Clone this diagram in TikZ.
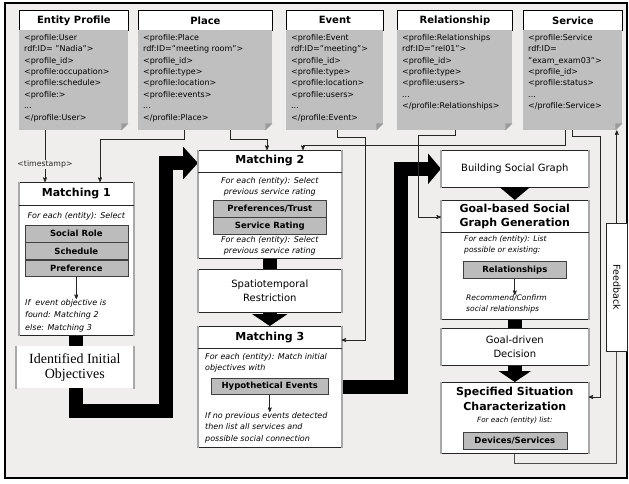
\documentclass[tikz,border=0pt]{standalone}
\usepackage{fontspec}
\setmainfont{DejaVu Sans}
\newfontfamily\objfont{Liberation Serif}
\usetikzlibrary{arrows,arrows.meta,calc,backgrounds}

\definecolor{panel}{RGB}{239,238,236}
\definecolor{docgray}{RGB}{191,191,191}
\definecolor{foldgray}{RGB}{155,155,155}
\definecolor{rowgray}{RGB}{188,188,188}
\definecolor{sidegray}{RGB}{168,168,168}

\begin{document}
\begin{tikzpicture}[x=1pt,y=-1pt,>=stealth',
  profhead/.style={draw=black,fill=white,line width=0.8pt,inner sep=0pt,minimum height=20pt,anchor=north west,font=\fontsize{10}{12}\selectfont\bfseries},
  profbody/.style={fill=docgray,inner xsep=5pt,inner ysep=4pt,anchor=north west,font=\fontsize{8}{11.4}\selectfont},
  stage/.style={draw=black!85,fill=white,line width=0.6pt,inner sep=0pt,anchor=north west,align=center},
  title/.style={font=\fontsize{11}{14}\selectfont\bfseries,align=center,inner sep=0pt},
  note/.style={font=\fontsize{8}{11}\selectfont\itshape,inner sep=0pt},
  plain/.style={font=\fontsize{10}{14}\selectfont},
  rowbox/.style={draw=black!75,fill=rowgray,line width=0.6pt,inner sep=0pt,anchor=north,minimum height=16.7pt,font=\fontsize{8.5}{10}\selectfont\bfseries},
  sidebar/.style={sidegray,line width=2.2pt},
  link/.style={->,black!85,line width=0.7pt},
  flow/.style={line width=14pt,line join=miter,black}]

\useasboundingbox (0,0) rectangle (629,483);

% profiles
\node[profhead,minimum width=109pt] (uhead) at (19,10)  {Entity Profile};
\node[profhead,minimum width=134pt] (phead) at (138,10) {Place};
\node[profhead,minimum width=97pt]  (ehead) at (286,10) {Event};
\node[profhead,minimum width=115pt] (rhead) at (397,10) {Relationship};
\node[profhead,minimum width=99pt]  (shead) at (523,10) {Service};

\node[profbody] (ubody) at (19,30)  {\parbox[t][92pt][t]{99pt}{<profile:User\\rdf:ID= "Nadia">\\<profile\_id>\\<profile:occupation>\\<profile:schedule>\\<profile:>\\...\\</profile:User>}};
\node[profbody] (pbody) at (138,30) {\parbox[t][92pt][t]{124pt}{<profile:Place\\rdf:ID="meeting room">\\<profile\_id>\\<profile:type>\\<profile:location>\\<profile:events>\\...\\</profile:Place>}};
\node[profbody] (ebody) at (286,30) {\parbox[t][92pt][t]{87pt}{<profile:Event\\rdf:ID="meeting">\\<profile\_id>\\<profile:type>\\<profile:location>\\<profile:users>\\...\\</profile:Event>}};
\node[profbody] (rbody) at (397,30) {\parbox[t][92pt][t]{105pt}{<profile:Relationships\\rdf:ID="rel01">\\<profile\_id>\\<profile:type>\\<profile:users>\\...\\</profile:Relationships>}};
\node[profbody] (sbody) at (523,30) {\parbox[t][92pt][t]{89pt}{<profile:Service\\rdf:ID=\\"exam\_exam03">\\<profile\_id>\\<profile:status>\\...\\</profile:Service>}};

\foreach \b in {ubody,pbody,ebody,rbody,sbody}{
  \fill[panel] (\b.south east) -- ++(-7,0) -- ++(7,-7) -- cycle;
  \fill[foldgray] (\b.south east) ++(-7,0) -- ++(7,-7) -- ++(-7,0) -- cycle;
}

% stages
\node[stage,minimum width=114pt,minimum height=153pt] (mone)   at (19,182)  {};
\node[stage,minimum width=117pt,minimum height=42pt,draw=none,font=\objfont\fontsize{14}{15}\selectfont] (ident) at (16,346) {Identified Initial\\Objectives};
\node[stage,minimum width=143pt,minimum height=108pt] (mtwo)   at (198,150) {};
\node[stage,minimum width=143pt,minimum height=43pt,plain]  (spat)   at (198,269) {Spatiotemporal\\Restriction};
\node[stage,minimum width=143pt,minimum height=121pt] (mthree) at (198,326) {};
\node[stage,minimum width=147pt,minimum height=37pt,plain]  (build)  at (441,150) {Building Social Graph};
\node[stage,minimum width=147pt,minimum height=119pt] (goal)   at (441,200) {};
\node[stage,minimum width=147pt,minimum height=37pt,plain]  (decide) at (441,328) {Goal-driven\\Decision};
\node[stage,minimum width=147pt,minimum height=71pt]  (situ)   at (441,382) {};
\node[stage,minimum width=21pt,minimum height=128pt]  (fback)  at (606,223) {};
\node[rotate=-90,font=\fontsize{9.5}{11}\selectfont] (fbtext) at (fback.center) {Feedback};

\foreach \n in {mone,ident,mtwo,spat,mthree,build,goal,decide,situ}
  \draw[sidebar] (\n.north west) -- (\n.south west) (\n.north east) -- (\n.south east);

% matching 1
\node[title] (monetitle) at ($(mone.north)+(0,12)$) {Matching 1};
\draw[black!85] ($(mone.north west)+(0,23)$) -- ($(mone.north east)+(0,23)$);
\node[note] (monesel) at ($(mone.north)+(0,34)$) {For each (entity): Select};
\node[rowbox,minimum width=103pt] (r11) at ($(mone.north)+(0,43)$) {Social Role};
\node[rowbox,minimum width=103pt] (r12) at (r11.south) {Schedule};
\node[rowbox,minimum width=103pt] (r13) at (r12.south) {Preference};
\node[note,align=left,anchor=north west,font=\fontsize{8}{12.5}\selectfont\itshape] (monenote) at ($(mone.north west)+(6,117)$) {If\ \ event objective is\\found: Matching 2\\else: Matching 3};
\draw[link] (r13.south) -- (r13.south |- monenote.north);

% matching 2
\node[title] (mtwotitle) at ($(mtwo.north)+(0,11)$) {Matching 2};
\draw[black!85] ($(mtwo.north west)+(0,22)$) -- ($(mtwo.north east)+(0,22)$);
\node[note,align=center] (mtwosel) at ($(mtwo.north)+(0,37)$) {For each (entity): Select\\previous service rating};
\node[rowbox,minimum width=113pt] (r21) at ($(mtwo.north)+(0,50)$) {Preferences/Trust};
\node[rowbox,minimum width=113pt] (r22) at (r21.south) {Service Rating};
\node[note,align=center,anchor=north] (mtwoagain) at ($(r22.south)+(0,2)$) {For each (entity): Select\\previous service rating};

% matching 3
\node[title] (mthreetitle) at ($(mthree.north)+(0,11)$) {Matching 3};
\draw[black!85] ($(mthree.north west)+(0,22)$) -- ($(mthree.north east)+(0,22)$);
\node[note,align=left,anchor=north west] (mthreesel) at ($(mthree.north west)+(7,27)$) {For each (entity): Match initial\\objectives with};
\node[rowbox,minimum width=117pt,minimum height=16pt] (r31) at ($(mthree.north)+(0,52)$) {Hypothetical Events};
\node[note,align=left,anchor=north west,font=\fontsize{8}{11.5}\selectfont\itshape] (mthreenote) at ($(mthree.north west)+(7,86)$) {If no previous events detected\\then list all services and\\possible social connection};
\draw[link] (r31.south) -- (r31.south |- mthreenote.north);

% goal-based
\node[title] (goaltitle) at ($(goal.north)+(0,16)$) {Goal-based Social\\Graph Generation};
\draw[black!85] ($(goal.north west)+(0,32)$) -- ($(goal.north east)+(0,32)$);
\node[note,align=left,anchor=north west,font=\fontsize{7.6}{10.5}\selectfont\itshape] (goalsel) at ($(goal.north west)+(23,36)$) {For each (entity): List\\possible or existing:};
\node[rowbox,minimum width=103pt,minimum height=17pt] (r41) at ($(goal.north)+(0,61)$) {Relationships};
\node[note,align=left,anchor=north west,font=\fontsize{7.6}{11}\selectfont\itshape] (goalnote) at ($(goal.north west)+(25,95)$) {Recommend/Confirm\\social relationships};
\draw[link] (r41.south) -- (r41.south |- goalnote.north);

% specified situation
\node[title,font=\fontsize{11}{14.5}\selectfont\bfseries] (situtitle) at ($(situ.north)+(0,17)$) {Specified Situation\\Characterization};
\node[note,font=\fontsize{7.2}{9}\selectfont\itshape] (situsel) at ($(situ.north)+(0,39)$) {For each (entity) list:};
\node[rowbox,minimum width=104pt,minimum height=17pt] (r51) at ($(situ.north)+(0,50)$) {Devices/Services};

% thick steps
\draw[flow] (mtwo.south) -- (spat.north);
\draw[flow,-{Triangle[length=12pt,width=35pt]}] (spat.south) -- (mthree.north);
\draw[flow,-{Triangle[length=13pt,width=30pt]}] (build.south) -- (goal.north);
\draw[flow] (goal.south) -- (decide.north);
\draw[flow,-{Triangle[length=11pt,width=32pt]}] (decide.south) -- (situ.north);

% profile links
\draw[link] ($(ubody.south west)+(26,0)$) -- ($(mone.north west)+(26,0)$)
  node[pos=0.66,fill=panel,inner sep=1pt,font=\fontsize{7.8}{9}\selectfont] (tstamp) {<timestamp>};
\draw[link] ($(pbody.south west)+(46,0)$) -- ++(0,9) -| ($(mone.north west)+(81,0)$);
\draw[link] ($(pbody.south west)+(92,0)$) -- ++(0,9) -| ($(mtwo.north west)+(69,0)$);
\draw[link] ($(ebody.south west)+(51,0)$) -- ++(0,7) -- ++(28,0) |- ($(mthree.north east)+(0,14)$);
\draw[link] ($(rbody.south west)+(58,0)$) -- ++(0,5) -- ++(-37,0) |- ($(goal.north west)+(0,17)$);
\draw[link] ($(sbody.south west)+(42,0)$) -- ++(0,15) -| ($(mtwo.north west)+(105,0)$);
\draw[link] ($(sbody.south west)+(49,0)$) -- ++(0,6) -- ++(28,0) |- ($(situ.north east)+(0,15)$);
\draw[link] (fback.north) -- (fback.north |- sbody.south);
\draw[black!70,line width=0.7pt] (situ.south) -- ++(0,10) -| (fback.south);

\begin{scope}[on background layer]
  \fill[white] (0,0) rectangle (629,483);
  \filldraw[fill=panel,draw=black,line width=1.5pt] (5,3) rectangle (627,478);
  \draw[flow,-{Triangle[length=15pt,width=32pt]}] (mone.south) -- ++(0,75) -| ($(mtwo.north west)+(-32,13)$) -- ($(mtwo.north west)+(0,13)$);
  \draw[flow,-{Triangle[length=13pt,width=30pt]}] (mthree.east) -- ++(59,0) |- (build.west);
\end{scope}

\end{tikzpicture}
\end{document}
